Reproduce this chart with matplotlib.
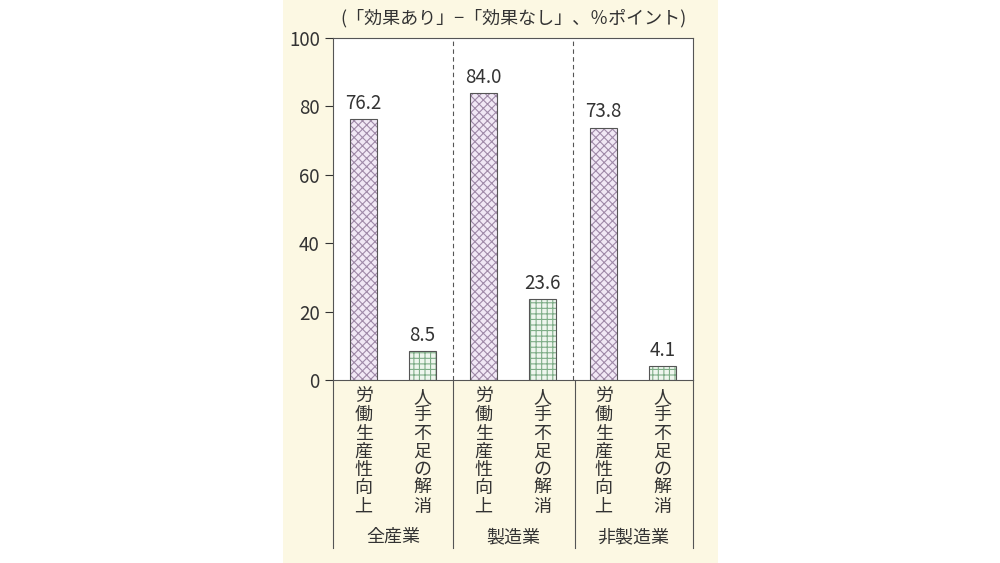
import matplotlib
matplotlib.use("Agg")
import matplotlib.pyplot as plt
from matplotlib.patches import Rectangle
from matplotlib.lines import Line2D

plt.rcParams['font.family'] = 'Noto Sans CJK JP'
plt.rcParams['hatch.linewidth'] = 0.8

groups = ["全産業", "製造業", "非製造業"]
series = ["労働生産性向上", "人手不足の解消"]
prod = [76.2, 84.0, 73.8]
labor = [8.5, 23.6, 4.1]
yticks = [0, 20, 40, 60, 80, 100]

fig = plt.figure(figsize=(10, 5.63), dpi=100)
fig.patches.append(Rectangle((0.283, 0), 0.435, 1, transform=fig.transFigure,
                             facecolor="#fcf8e3", edgecolor="none", zorder=-10))
ax = fig.add_axes([0.333, 0.325, 0.36, 0.6075])
ax.set_facecolor("white")

off, w = 0.245, 0.23
for i in range(3):
    for val, dx, fc, hc, h in [(prod[i], -off, "#f1e8f5", "#a08aa8", "xxxx"),
                               (labor[i], off, "#eef6ee", "#7fae88", "+++")]:
        ax.bar(i + dx, val, w, color=fc, edgecolor=hc, hatch=h, linewidth=0, zorder=2)
        ax.bar(i + dx, val, w, color="none", edgecolor="#555555", linewidth=0.8, zorder=3)
        ax.text(i + dx, val + 1.5, f"{val:.1f}", ha="center", va="bottom",
                fontsize=13.5, color="#333333")

ax.set_xlim(-0.5, 2.5)
ax.set_ylim(0, 100)
ax.set_yticks(yticks)
ax.tick_params(axis='y', direction='out', length=6, labelsize=13.5, colors="#333333")
ax.set_xticks([])
for s in ax.spines.values():
    s.set_color("#555555")
    s.set_linewidth(0.8)
for x in [0.5, 1.5]:
    ax.axvline(x, color="#555555", linestyle=(0, (4, 3)), linewidth=0.8)

ax.text(0.5, 1.03, "(「効果あり」−「効果なし」、％ポイント)", transform=ax.transAxes,
        ha="center", va="bottom", fontsize=13, color="#333333")

for xf in [0.333, 0.453, 0.575, 0.693]:
    fig.add_artist(Line2D([xf, xf], [1 - 548/563, 0.325], color="#555555",
                          linewidth=0.8, transform=fig.transFigure))
for i, g in enumerate(groups):
    for j, (s, dx) in enumerate(zip(series, [-off, off])):
        xd = ax.transData.transform((i + dx, 0))[0]
        xf = fig.transFigure.inverted().transform((xd, 0))[0]
        fig.text(xf, 1 - 388/563, "\n".join(s), ha="center", va="top",
                 fontsize=13, color="#333333", linespacing=1.02)
    xd = ax.transData.transform((i, 0))[0]
    xf = fig.transFigure.inverted().transform((xd, 0))[0]
    fig.text(xf, 1 - 537/563, g, ha="center", va="center", fontsize=13, color="#333333")

fig.savefig("out.png", dpi=100)
